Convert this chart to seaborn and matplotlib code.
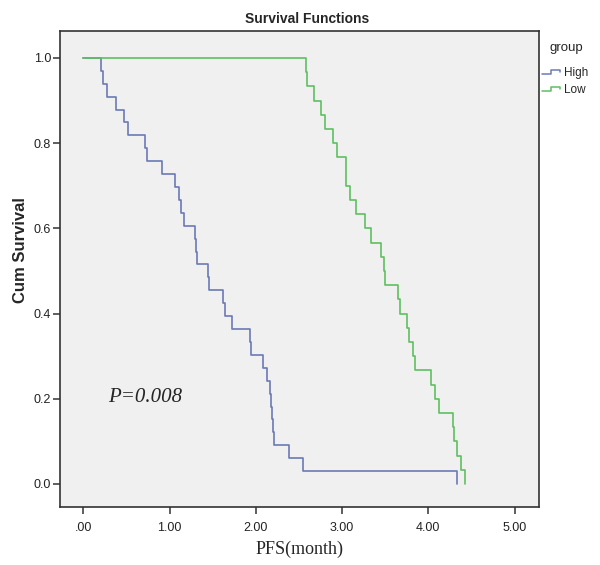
import numpy as np
import pandas as pd
import matplotlib
matplotlib.use("Agg")
import matplotlib.pyplot as plt
import seaborn as sns
from matplotlib.legend_handler import HandlerBase
from matplotlib.lines import Line2D

# Event times (months)
high_times = [0.21, 0.23, 0.27, 0.38, 0.47, 0.52, 0.71, 0.74, 0.91, 1.06, 1.11,
              1.13, 1.17, 1.30, 1.31, 1.32, 1.45, 1.46, 1.62, 1.64, 1.72, 1.93,
              1.94, 2.08, 2.13, 2.17, 2.18, 2.19, 2.20, 2.21, 2.38, 2.55, 4.33]
low_times = [2.58, 2.59, 2.67, 2.75, 2.80, 2.89, 2.94, 3.04, 3.05, 3.09, 3.16,
             3.26, 3.34, 3.45, 3.49, 3.50, 3.65, 3.67, 3.75, 3.77, 3.82, 3.84,
             4.03, 4.08, 4.12, 4.28, 4.30, 4.33, 4.38, 4.43]
groups = ["High", "Low"]
colors = ["#6B7AB6", "#5FBF62"]
x_ticks = [0, 1, 2, 3, 4, 5]
x_tick_labels = [".00", "1.00", "2.00", "3.00", "4.00", "5.00"]
y_ticks = [0.0, 0.2, 0.4, 0.6, 0.8, 1.0]
p_text = "P=0.008"


def km_frame(times, name):
    # all observations are events: survival drops by 1/n at each time
    n = len(times)
    t = [0.0] + list(times)
    s = [1.0] + [(n - k) / n for k in range(1, n + 1)]
    return pd.DataFrame({"time": t, "surv": s, "group": name})


df = pd.concat([km_frame(high_times, "High"), km_frame(low_times, "Low")],
               ignore_index=True)


class StepHandler(HandlerBase):
    """Draws a little step glyph in the legend, like SPSS does."""
    def create_artists(self, legend, orig_handle, xdescent, ydescent,
                       width, height, fontsize, trans):
        x = np.array([0, 0.45, 0.45, 0.92, 0.92]) * width - xdescent
        y = np.array([0.2, 0.2, 0.75, 0.75, 0.4]) * height - ydescent
        line = Line2D(x, y, color=orig_handle.get_color(),
                      lw=orig_handle.get_linewidth())
        line.set_transform(trans)
        return [line]


sns.set_style("white")
plt.rcParams["font.family"] = ["Liberation Sans", "DejaVu Sans"]

fig, ax = plt.subplots(figsize=(6, 5.65), dpi=100)
fig.subplots_adjust(left=0.1, right=0.898, bottom=0.1027, top=0.945)

sns.lineplot(data=df, x="time", y="surv", hue="group", hue_order=groups,
             palette=colors, estimator=None, drawstyle="steps-post",
             linewidth=1.2, legend=False, ax=ax)

ax.set_facecolor("#F0F0F0")
ax.set_xlim(-0.27, 5.28)
ax.set_ylim(-0.054, 1.063)
ax.set_xticks(x_ticks)
ax.set_xticklabels(x_tick_labels)
ax.set_yticks(y_ticks)
ax.set_yticklabels([f"{v:.1f}" for v in y_ticks])
ax.tick_params(bottom=True, left=True, direction="out", length=5, width=1.1,
               color="#333333", labelsize=9, labelcolor="#222222")
ax.tick_params(axis="x", pad=5.5)
ax.tick_params(axis="y", pad=1.5)
for sp in ax.spines.values():
    sp.set_visible(True)
    sp.set_color("#333333")
    sp.set_linewidth(1.2)

ax.set_title("Survival Functions", fontweight="bold", fontsize=10, pad=6,
             x=0.516)
ax.set_xlabel("PFS(month)", family="Liberation Serif", fontsize=13, labelpad=5)
ax.set_ylabel("Cum Survival", fontweight="bold", fontsize=12)
ax.yaxis.set_label_coords(-0.067, 0.54)

ax.text(0.29, 0.204, p_text, family="Liberation Serif", style="italic",
        fontsize=15, va="center", ha="left")

# legend title drawn as plain text, SPSS leaves a wide gap under it
ax.text(1.023, 0.964, "group", transform=ax.transAxes, fontsize=9.5,
        va="center", ha="left")
handles = [Line2D([], [], color=c, lw=1.1) for c in colors]
ax.legend(handles, groups, loc="upper left", bbox_to_anchor=(1.006, 0.925),
          frameon=False, handler_map={Line2D: StepHandler()},
          handlelength=1.7, handletextpad=0.15, fontsize=8.5,
          borderaxespad=0, labelspacing=0.42, borderpad=0)

fig.savefig("out.png", dpi=100)
